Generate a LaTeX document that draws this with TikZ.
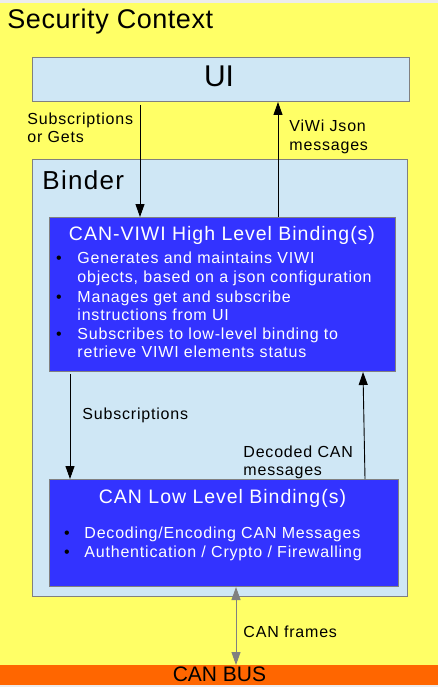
\documentclass[tikz,border=0pt]{standalone}
\usepackage{fontspec}
\setmainfont{Liberation Sans}
\newfontfamily\spaced{Liberation Sans}[LetterSpace=5]
\newfontfamily\lspaced{Liberation Sans}[LetterSpace=2]
\usetikzlibrary{arrows.meta}

\definecolor{ctxyellow}{HTML}{FFFF66}
\definecolor{paleblue}{HTML}{CFE7F5}
\definecolor{bindblue}{HTML}{3333FF}
\definecolor{busorange}{HTML}{FF6600}
\definecolor{edgegray}{HTML}{808080}

\begin{document}
\begin{tikzpicture}[
    x=1pt, y=-1pt,
    >={Triangle[length=13pt,width=9pt]},
    line width=0.9pt,
    area/.style={anchor=north west, inner sep=0pt},
    box/.style={area, draw=edgegray, line width=1pt},
    lbl/.style={anchor=base west, inner sep=0pt, font=\fontsize{16}{19}\spaced},
    item/.style={lbl, text=white},
    dot/.style={anchor=base, inner sep=0pt, text=black, font=\fontsize{16}{19}\selectfont},
    title/.style={anchor=base, inner sep=0pt, text=white, font=\fontsize{19.5}{22}\spaced}
]
\useasboundingbox (0,0) rectangle (438,687);
\fill[gray!15] (0,0) rectangle (438,687);

% Containers
\node[area, fill=ctxyellow, minimum width=438pt, minimum height=662pt] (ctx) at (0,3) {};
\node[area, fill=busorange, minimum width=438pt, minimum height=20pt, text depth=3pt,
      font=\fontsize{21}{21}\selectfont] (bus) at (0,665) {CAN BUS};
\node[anchor=base west, inner sep=0pt, font=\fontsize{27}{27}\lspaced] (ctxt) at (7,29) {Security Context};

\node[box, fill=paleblue, minimum width=377pt, minimum height=44pt] (ui) at (32,57) {};
\node[anchor=base, inner sep=0pt, font=\fontsize{30}{30}\selectfont] (uit) at (219,87) {UI};

\node[box, fill=paleblue, minimum width=375pt, minimum height=437pt] (binder) at (32,159) {};
\node[anchor=base west, inner sep=0pt, font=\fontsize{26}{26}\spaced] (bindt) at (42,189) {Binder};

% High level binding
\node[box, fill=bindblue, minimum width=346pt, minimum height=154pt] (hl) at (49,217) {};
\node[title] (hlt) at (222,240) {CAN-VIWI High Level Binding(s)};
\node[dot] (hd1) at (59,263) {•};
\node[item] (hl1) at (77,263) {Generates and maintains VIWI};
\node[item] (hl2) at (77,282) {objects, based on a json configuration};
\node[dot] (hd2) at (59,302) {•};
\node[item] (hl3) at (77,302) {Manages get and subscribe};
\node[item] (hl4) at (77,320) {instructions from UI};
\node[dot] (hd3) at (59,339) {•};
\node[item] (hl5) at (77,339) {Subscribes to low-level binding to};
\node[item] (hl6) at (77,357) {retrieve VIWI elements status};

% Low level binding
\node[box, fill=bindblue, minimum width=349pt, minimum height=107pt] (ll) at (49,479) {};
\node[title] (llt) at (222.5,503) {CAN Low Level Binding(s)};
\node[dot] (ld1) at (67,538) {•};
\node[item] (ll1) at (84,538) {Decoding/Encoding CAN Messages};
\node[dot] (ld2) at (67,557) {•};
\node[item] (ll2) at (84,557) {Authentication / Crypto / Firewalling};

% Labels
\node[lbl] (sub1) at (27,125) {Subscriptions};
\node[lbl] (sub2) at (27,143) {or Gets};
\node[lbl] (json1) at (289,132) {ViWi Json};
\node[lbl] (json2) at (289,151) {messages};
\node[lbl] (sub3) at (82,419) {Subscriptions};
\node[lbl] (dec1) at (243,457) {Decoded CAN};
\node[lbl] (dec2) at (243,475) {messages};
\node[lbl] (frm) at (243,637) {CAN frames};

% Edges
\coordinate (xa) at (140,0);
\coordinate (xb) at (278,0);
\coordinate (xc) at (70,0);
\coordinate (xd) at (365,0);
\coordinate (xe) at (363,0);
\coordinate (xf) at (236,0);

\draw[->] ([yshift=-3pt]ui.south -| xa) -- (hl.north -| xa);
\draw[->] (hl.north -| xb) -- (ui.south -| xb);
\draw[->] ([yshift=-2pt]hl.south -| xc) -- (ll.north -| xc);
\draw[->] (ll.north -| xd) -- (hl.south -| xe);
\draw[<->, edgegray] (ll.south -| xf) -- (bus.north -| xf);

\end{tikzpicture}
\end{document}
